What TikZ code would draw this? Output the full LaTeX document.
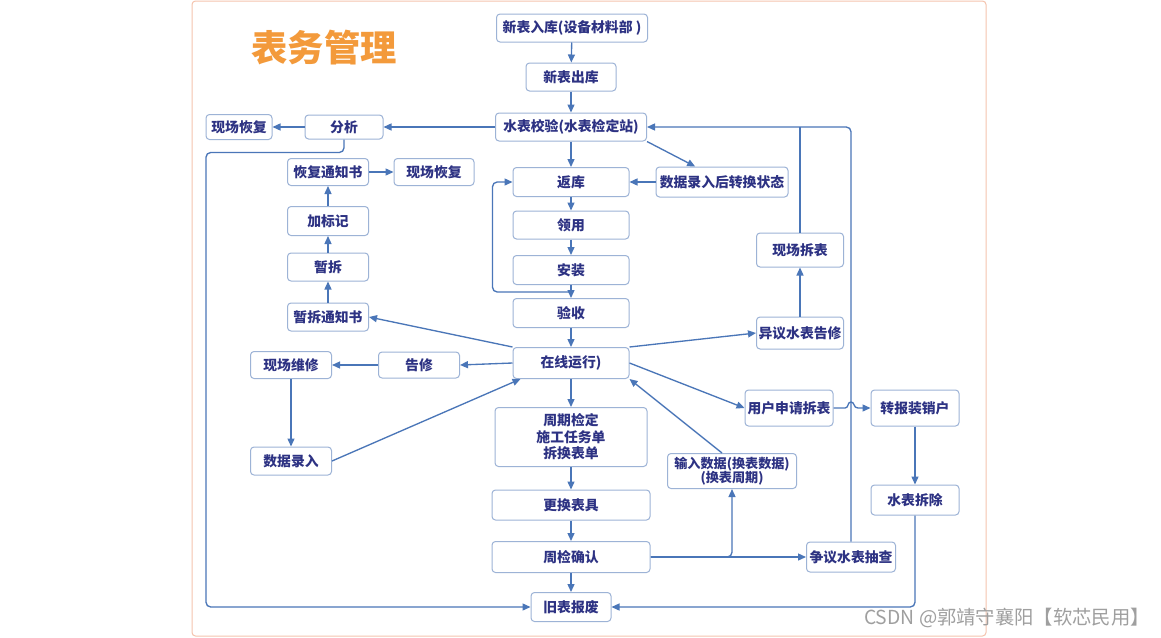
\documentclass[tikz,border=0pt]{standalone}
\usepackage{fontspec}
\newfontfamily\cjk{Noto Sans CJK SC}
\usetikzlibrary{arrows.meta}

\definecolor{linkblue}{HTML}{4A76B8}
\definecolor{boxline}{HTML}{9DB3D6}
\definecolor{navy}{HTML}{2D3283}
\definecolor{titleorange}{HTML}{F39A3B}
\definecolor{framepink}{HTML}{F5C4AE}

\tikzset{
  box/.style={draw=boxline, line width=0.3mm, rounded corners=3pt, fill=white,
    text=navy, font=\cjk\bfseries\fontsize{11.8}{14}\selectfont, align=center,
    inner sep=1pt, minimum width=#1, minimum height=8.7mm},
  box/.default=24.3mm,
  link/.style={draw=linkblue, line width=0.4mm, -{Triangle[length=2.4mm,width=2.1mm]}},
  plain/.style={draw=linkblue, line width=0.4mm}
}

\begin{document}
\begin{tikzpicture}[x=0.3mm, y=-0.3mm]
\useasboundingbox (0,0) rectangle (1161,637);
\fill[white] (0,0) rectangle (1161,637);
\draw[framepink, line width=0.3mm, rounded corners=3pt] (192,1) rectangle (986,636);

\node[text=titleorange, font=\cjk\bfseries\fontsize{31}{34}\selectfont] at (324,48) (title){表务管理};

\node[box=45.3mm, minimum height=8.4mm] at (572,28) (ruku){新表入库(设备材料部 )};
\node[box=27mm, minimum height=8.4mm] at (571,77) (chuku){新表出库};
\node[box=45.3mm, minimum height=8.4mm] at (571,127) (jiaoyan){水表校验(水表检定站)};
\node[box=23.4mm, minimum height=7.2mm] at (344,127) (fenxi){分析};
\node[box=19.8mm, minimum height=7.5mm] at (239,127) (huifua){现场恢复};
\node[box=34.8mm] at (571,182) (fanku){返库};
\node[box=39.6mm, minimum height=9mm] at (722,182) (zhuanhuan){数据录入后转换状态};
\node[box=34.8mm, minimum height=8.4mm] at (571,225) (lingyong){领用};
\node[box=34.8mm] at (571,270) (anzhuang){安装};
\node[box=34.8mm] at (571,313) (yanshou){验收};
\node[box=34.8mm, minimum height=9.3mm] at (571,363) (zaixian){在线运行)};
\node[box=45.6mm, minimum height=17.7mm] at (571,437) (zhouqi){周期检定\\施工任务单\\拆换表单};
\node[box=47.4mm, minimum height=9mm] at (571,505) (genghuan){更换表具};
\node[box=47.4mm, minimum height=9.3mm] at (571,557) (queren){周检确认};
\node[box=24mm] at (571,607) (baofei){旧表报废};

\node[box, minimum height=8.1mm] at (328,172) (huifutz){恢复通知书};
\node[box=24mm, minimum height=8.1mm] at (434,172) (huifub){现场恢复};
\node[box] at (328,221) (biaoji){加标记};
\node[box, minimum height=8.4mm] at (328,267) (zanchai){暂拆};
\node[box, minimum height=8.4mm] at (328,317) (zanchaitz){暂拆通知书};
\node[box, minimum height=8.1mm] at (291,365) (weixiu){现场维修};
\node[box, minimum height=7.8mm] at (419,365) (gaoxiu){告修};
\node[box, minimum height=8.4mm] at (291,461) (luru){数据录入};

\node[box=26.1mm, minimum height=10.2mm] at (800,250) (chaibiao){现场拆表};
\node[box=26.1mm, minimum height=9.6mm] at (800,333) (yiyi){异议水表告修};
\node[box=26.4mm, minimum height=10.8mm] at (789,408) (shenqing){用户申请拆表};
\node[box=26.4mm, minimum height=10.8mm] at (915,408) (xiaohu){转报装销户};
\node[box=26.4mm, minimum height=9mm] at (915,500) (chaichu){水表拆除};
\node[box=38.7mm, minimum height=10.5mm, font=\cjk\bfseries\fontsize{11.2}{12.5}\selectfont] at (732,471) (shuru){输入数据(换表数据)\\(换表周期)};
\node[box=26.7mm, minimum height=9mm] at (851,557) (chaxun){争议水表抽查};

\node[text=gray!75, font=\cjk\fontsize{16.5}{18}\selectfont] at (1007,618) (csdn){CSDN @郭靖守襄阳【软芯民用】};

\coordinate (loop) at (571,292);
\coordinate (leftrail) at (206,607);
\coordinate (hopa) at (845,408);
\coordinate (hopb) at (858,408);

\draw[link] (ruku) -- (chuku);
\draw[link] (chuku) -- (jiaoyan);
\draw[link] (jiaoyan) -- (fanku);
\draw[link] (jiaoyan.south east) -- (zhuanhuan.150);
\draw[link] (zhuanhuan.west) -- (fanku.east);
\draw[link] (fanku) -- (lingyong);
\draw[link] (lingyong) -- (anzhuang);
\draw[link] (anzhuang) -- (yanshou);
\draw[link, rounded corners=4pt] (loop) -| ([xshift=-6mm]fanku.west) -- (fanku.west);
\draw[link] (yanshou) -- (zaixian);

\draw[link] (jiaoyan.west) -- (fenxi.east);
\draw[link] (fenxi.west) -- (huifua.east);
\draw[link, rounded corners=4pt] (fenxi.south) -- ++(0,13) -| (leftrail) -- (baofei.west);

\draw[link, rounded corners=4pt] (chaxun.north) |- (jiaoyan.east);
\draw[plain] (chaibiao.north) -- (chaibiao.north |- jiaoyan.east);
\draw[link] (yiyi) -- (chaibiao);
\draw[link] (zaixian.north east) -- (yiyi.west);
\draw[link] (zaixian.east) -- (shenqing.west);
\draw[link] (shenqing.east) -- (hopa) .. controls (849,408) and (847,402) .. (851,402) .. controls (855,402) and (853,408) .. (hopb) -- (xiaohu.west);
\draw[link] (xiaohu) -- (chaichu);
\draw[link, rounded corners=4pt] (chaichu.south) |- (baofei.east);

\draw[link] (zaixian.north west) -- (zanchaitz.east);
\draw[link] (zanchaitz) -- (zanchai);
\draw[link] (zanchai) -- (biaoji);
\draw[link] (biaoji) -- (huifutz);
\draw[link] (huifutz) -- (huifub);
\draw[link] (zaixian.west) -- (gaoxiu.east);
\draw[link] (gaoxiu) -- (weixiu);
\draw[link] (weixiu) -- (luru);
\draw[link] (luru.east) -- ([xshift=2.4mm]zaixian.south west);

\draw[link] (zaixian) -- (zhouqi);
\draw[link] (zhouqi) -- (genghuan);
\draw[link] (genghuan) -- (queren);
\draw[link] (queren) -- (baofei);
\draw[link, rounded corners=4pt] (queren.east) -| (shuru.south);
\draw[link] (queren.east) -- (chaxun.west);
\draw[link] ([xshift=-3mm]shuru.north) -- (zaixian.south east);

\end{tikzpicture}
\end{document}
